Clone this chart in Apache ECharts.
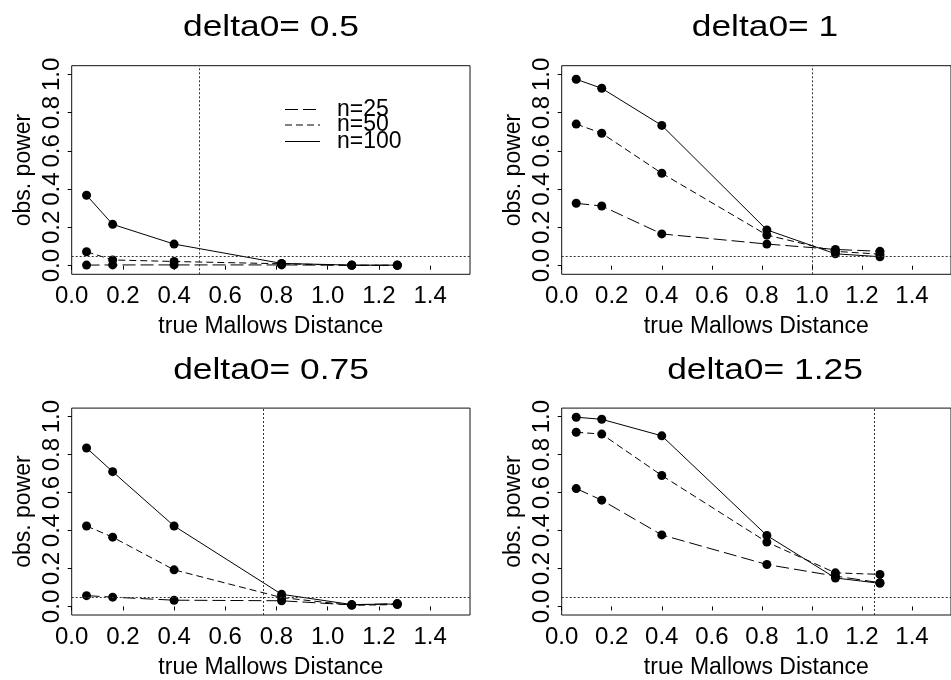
<!DOCTYPE html>
<html>
<head>
<meta charset="utf-8">
<script src="https://cdn.jsdelivr.net/npm/echarts@6/dist/echarts.min.js"></script>
<style>
  html, body { margin: 0; padding: 0; background: #fff; }
  #main { width: 951px; height: 680px; }
</style>
</head>
<body>
<div id="main"></div>
<script>
// true Mallows distance (x positions shared by all panels)
var dist = [0.058, 0.16, 0.40, 0.82, 1.094, 1.272];
var deltas = [0.5, 1, 0.75, 1.25];
var xTicks = [0, 0.2, 0.4, 0.6, 0.8, 1.0, 1.2, 1.4];
var yTicks = [0, 0.2, 0.4, 0.6, 0.8, 1.0];
var alpha = 0.05;

// observed power, one array per sample size, per panel
var pow25_05 = [0.003, 0.004, 0.004, 0.004, 0.002, 0.002];
var pow50_05 = [0.073, 0.030, 0.022, 0.010, 0.002, 0.002];
var pow100_05 = [0.368, 0.216, 0.113, 0.012, 0.003, 0.003];

var pow25_1 = [0.326, 0.312, 0.166, 0.113, 0.085, 0.075];
var pow50_1 = [0.740, 0.692, 0.483, 0.160, 0.075, 0.060];
var pow100_1 = [0.974, 0.927, 0.733, 0.187, 0.062, 0.047];

var pow25_075 = [0.057, 0.049, 0.033, 0.030, 0.008, 0.015];
var pow50_075 = [0.424, 0.365, 0.193, 0.047, 0.006, 0.010];
var pow100_075 = [0.835, 0.710, 0.424, 0.064, 0.010, 0.013];

var pow25_125 = [0.621, 0.560, 0.377, 0.221, 0.160, 0.125];
var pow50_125 = [0.918, 0.908, 0.690, 0.339, 0.177, 0.169];
var pow100_125 = [0.997, 0.986, 0.899, 0.374, 0.150, 0.122];

var panels = [
  [pow25_05, pow50_05, pow100_05],
  [pow25_1, pow50_1, pow100_1],
  [pow25_075, pow50_075, pow100_075],
  [pow25_125, pow50_125, pow100_125]
];
var seriesNames = ['n=25', 'n=50', 'n=100'];
var dashes = [[13, 5], [7, 4], 'solid'];

var FONT = 'Liberation Sans, Arial, Helvetica, sans-serif';
var chart = echarts.init(document.getElementById('main'));

// panel boxes
var boxes = [
  { left: 71.7, top: 65.7, width: 398.3, height: 208.6 },
  { left: 561.7, top: 65.7, width: 398.3, height: 208.6 },
  { left: 71.7, top: 408.1, width: 398.3, height: 208.8 },
  { left: 561.7, top: 408.1, width: 398.3, height: 208.8 }
];
var titleCenters = [[271, 28], [765, 28], [271, 371], [765, 371]];

var grids = [], xAxes = [], yAxes = [], series = [], graphics = [];

boxes.forEach(function (b, i) {
  grids.push({
    left: b.left, top: b.top, width: b.width, height: b.height,
    show: true, borderColor: '#111', borderWidth: 1, backgroundColor: 'transparent'
  });
  // panel title (R fonts come out a bit wide, hence the scaleX)
  graphics.push({
    type: 'text', x: titleCenters[i][0], y: titleCenters[i][1], scaleX: 1.22,
    style: {
      text: 'delta0= ' + deltas[i], font: '29px ' + FONT, fill: '#000',
      align: 'center', verticalAlign: 'middle'
    }
  });
  xAxes.push({
    gridIndex: i, type: 'value', min: 0, max: 1.556,
    name: 'true Mallows Distance', nameLocation: 'middle', nameGap: 41,
    nameTextStyle: { fontFamily: FONT, fontSize: 23, color: '#000' },
    axisLine: { show: false },
    axisTick: { show: true, inside: false, length: 4, customValues: xTicks, lineStyle: { color: '#000' } },
    axisLabel: {
      customValues: xTicks, margin: 10, fontFamily: FONT, fontSize: 24, color: '#000',
      formatter: function (v) { return v.toFixed(1); }
    },
    splitLine: { show: false }
  });
  yAxes.push({
    gridIndex: i, type: 'value', min: -0.045, max: 1.045,
    name: 'obs. power', nameLocation: 'middle', nameGap: 37, nameRotate: 90,
    nameTextStyle: { fontFamily: FONT, fontSize: 23, color: '#000' },
    axisLine: { show: false },
    axisTick: { show: true, inside: false, length: 4, customValues: yTicks, lineStyle: { color: '#000' } },
    axisLabel: {
      customValues: yTicks, rotate: 90, margin: 7, fontFamily: FONT, fontSize: 24, color: '#000',
      formatter: function (v) { return v.toFixed(1); }
    },
    splitLine: { show: false }
  });

  panels[i].forEach(function (vals, k) {
    var s = {
      name: seriesNames[k],
      type: 'line',
      xAxisIndex: i, yAxisIndex: i,
      data: dist.map(function (d, j) { return [d, vals[j]]; }),
      symbol: 'circle', symbolSize: 9,
      itemStyle: { color: '#000' },
      lineStyle: { color: '#000', width: 1, type: dashes[k] },
      animation: false, silent: true, z: 3
    };
    if (k === 0) {
      s.markLine = {
        silent: true, symbol: 'none', label: { show: false },
        lineStyle: { color: '#333', width: 1, type: [2, 2] },
        data: [{ yAxis: alpha }, { xAxis: deltas[i] }]
      };
    }
    series.push(s);
  });
});

// legend (top-left panel)
var legendRows = [109.5, 125, 141.5];
seriesNames.forEach(function (nm, k) {
  graphics.push({
    type: 'line', shape: { x1: 285, y1: legendRows[k], x2: 320, y2: legendRows[k] },
    style: { stroke: '#000', lineWidth: 1, lineDash: dashes[k] === 'solid' ? null : dashes[k] }
  });
  graphics.push({
    type: 'text', x: 337, y: legendRows[k],
    style: { text: nm, font: '23px ' + FONT, fill: '#000', verticalAlign: 'middle' }
  });
});

chart.setOption({
  backgroundColor: '#fff',
  animation: false,
  grid: grids,
  xAxis: xAxes,
  yAxis: yAxes,
  series: series,
  graphic: graphics
});
</script>
</body>
</html>
